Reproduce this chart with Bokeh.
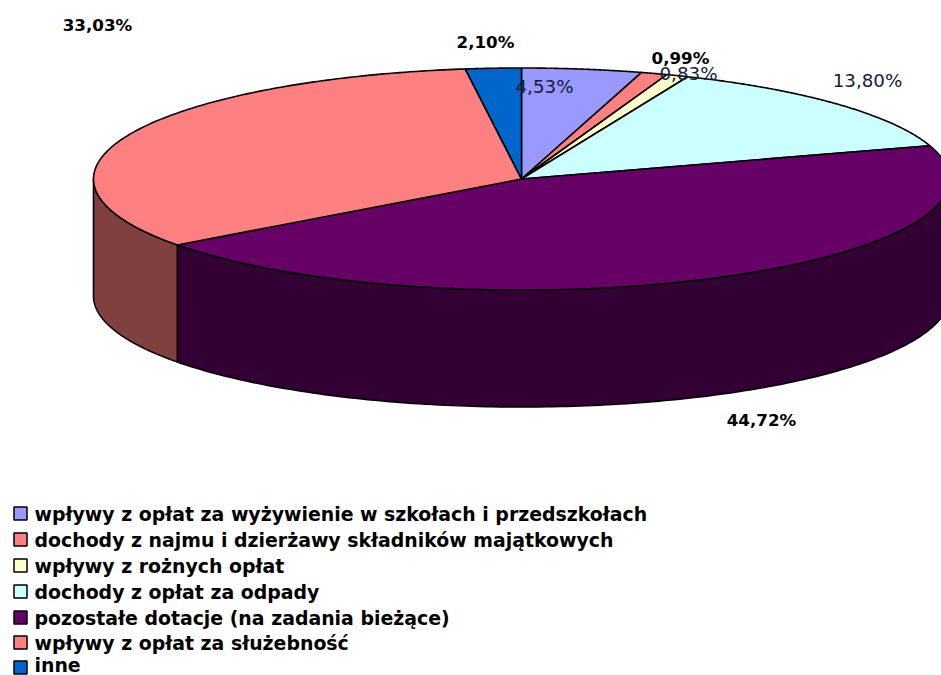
import numpy as np
from bokeh.plotting import figure
from bokeh.models import Range1d
from bokeh.core.properties import value
from bokeh.embed import file_html
from bokeh.resources import INLINE

categories = [
    "wpływy z opłat za wyżywienie w szkołach i przedszkołach",
    "dochody z najmu i dzierżawy składników majątkowych",
    "wpływy z rożnych opłat",
    "dochody z opłat za odpady",
    "pozostałe dotacje (na zadania bieżące)",
    "wpływy z opłat za służebność",
    "inne",
]
shares = [4.53, 0.99, 0.83, 13.80, 44.72, 33.03, 2.10]
top_colors = ["#9999FF", "#FF8080", "#FFFFCC", "#CCFFFF", "#660066", "#FF8080", "#0066CC"]
wall_colors = ["#4D4D80", "#804040", "#808066", "#668080", "#330033", "#804040", "#003366"]
labels = ["4,53%", "0,99%", "0,83%", "13,80%", "44,72%", "33,03%", "2,10%"]
label_bold = [False, True, False, False, True, True, True]
label_x = [544, 680, 688, 867, 761, 97, 485]
label_y = [86, 57, 73, 80, 419, 24, 41]

CX, CY, RX, RY, DEPTH = 521, 178.5, 428, 111, 117
W, H = 941, 675

p = figure(width=W, height=H, output_backend="svg", toolbar_location=None,
           x_range=Range1d(0, W), y_range=Range1d(H, 0),
           min_border=0, outline_line_color=None, background_fill_color="white",
           border_fill_color="white")
p.axis.visible = False
p.grid.visible = False

def pt(theta):
    return CX + RX * np.sin(theta), CY - RY * np.cos(theta)

edges = np.radians(np.concatenate([[0], np.cumsum(shares)]) * 3.6)

# side wall (only the front half of the rim is visible)
wx, wy, wc = [], [], []
for i, col in enumerate(wall_colors):
    a, b = max(edges[i], np.pi / 2), min(edges[i + 1], 3 * np.pi / 2)
    if b <= a:
        continue
    t = np.linspace(a, b, 160)
    x, y = pt(t)
    wx.append(np.concatenate([x, x[::-1]]))
    wy.append(np.concatenate([y, y[::-1] + DEPTH]))
    wc.append(col)
p.patches(wx, wy, fill_color=wc, line_color="#000000", line_width=1.6)

# top face
tx, ty = [], []
for i in range(len(shares)):
    t = np.linspace(edges[i], edges[i + 1], 160)
    x, y = pt(t)
    tx.append(np.concatenate([[CX], x]))
    ty.append(np.concatenate([[CY], y]))
p.patches(tx, ty, fill_color=top_colors, line_color="#000000", line_width=1.6)

# data labels
for lab, bold, lx, ly in zip(labels, label_bold, label_x, label_y):
    p.text([lx], [ly], text=[lab], text_font=value("DejaVu Sans"),
           text_font_size="16.7px" if bold else "18.3px",
           text_font_style="bold" if bold else "normal",
           text_color="#000000" if bold else "#10203A",
           text_align="center", text_baseline="middle")

# legend
marker_y = [513, 539, 565, 591, 617, 642, 667]
text_y = [513, 539, 565, 591, 617, 642, 664]
p.rect([20] * 7, marker_y, width=13, height=13, fill_color=top_colors,
       line_color="#000000", line_width=1.5)
p.text([34] * 7, text_y, text=categories, text_font=value("DejaVu Sans"),
       text_font_size="18.9px", text_font_style="bold", text_color="#000000",
       text_align="left", text_baseline="middle")

open("out.html", "w").write(file_html(p, INLINE))
